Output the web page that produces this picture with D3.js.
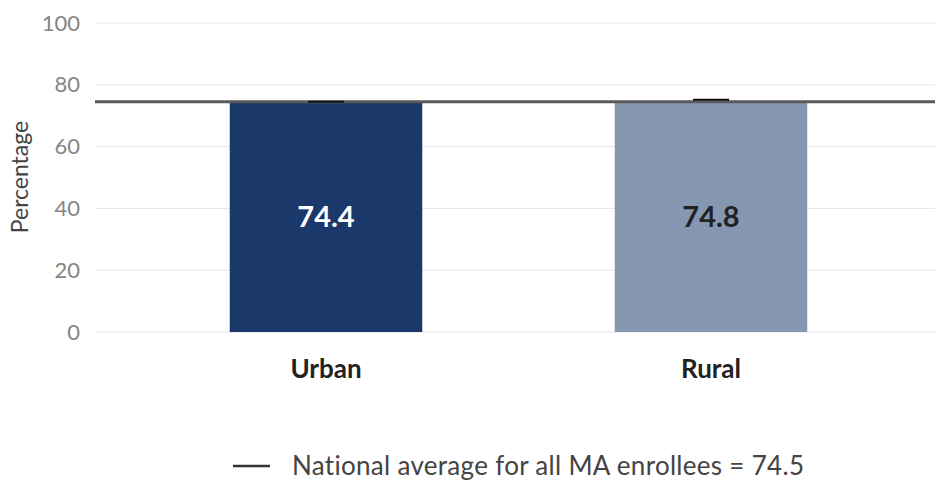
<!DOCTYPE html>
<html><head><meta charset="utf-8">
<script src="https://cdn.jsdelivr.net/npm/d3@7/dist/d3.min.js"></script>
<style>body{margin:0;background:#fff;}text{font-family:Lato,"Open Sans",sans-serif;}</style>
</head><body>
<script>
const categories = ["Urban", "Rural"];
const values = [74.4, 74.8];
const capTops = [74.5, 75.2];
const nationalAverage = 74.5;
const yTicks = [0, 20, 40, 60, 80, 100];
const legendLabel = "National average for all MA enrollees = 74.5";

const W = 935, H = 480;
const svg = d3.select("body").append("svg").attr("width", W).attr("height", H);
const y = d3.scaleLinear().domain([0, 100]).range([332, 23]);
const x = d3.scaleBand().domain(categories).range([133.5, 903.5]).paddingInner(0.5).paddingOuter(0.25);
const colors = ["#1b386b", "#8597b1"];
const textColors = ["#ffffff", "#222222"];

// grid
svg.append("g").selectAll("line").data(yTicks).join("line")
  .attr("x1", 95).attr("x2", 935)
  .attr("y1", d => y(d)).attr("y2", d => y(d))
  .attr("stroke", "#e6e6e6").attr("stroke-width", 1);

// y axis labels
const ax = svg.append("g").attr("transform", "translate(80,0)")
  .call(d3.axisLeft(y).tickValues(yTicks).tickSize(0).tickPadding(0));
ax.select(".domain").remove();
ax.selectAll("text").attr("font-size", 22).attr("fill", "#858585").style("font-family", "Lato, 'Open Sans', sans-serif");

svg.append("text").attr("transform", "translate(28,177) rotate(-90)")
  .attr("text-anchor", "middle").attr("font-size", 23).attr("fill", "#444").text("Percentage");

// bars
svg.append("g").selectAll("rect").data(categories).join("rect")
  .attr("x", d => x(d)).attr("width", x.bandwidth())
  .attr("y", (d, i) => y(values[i])).attr("height", (d, i) => y(0) - y(values[i]))
  .attr("fill", (d, i) => colors[i]);

// national average line
svg.append("line").attr("x1", 95).attr("x2", 935)
  .attr("y1", y(nationalAverage)).attr("y2", y(nationalAverage))
  .attr("stroke", "#5a5a5a").attr("stroke-width", 3);

// caps
svg.append("g").selectAll("line").data(categories).join("line")
  .attr("x1", d => x(d) + x.bandwidth() / 2 - 18).attr("x2", d => x(d) + x.bandwidth() / 2 + 18)
  .attr("y1", (d, i) => y(capTops[i])).attr("y2", (d, i) => y(capTops[i]))
  .attr("stroke", "#111").attr("stroke-width", 2);

// value labels
svg.append("g").selectAll("text").data(categories).join("text")
  .attr("x", d => x(d) + x.bandwidth() / 2)
  .attr("y", (d, i) => (y(values[i]) + y(0)) / 2)
  .attr("dy", "0.36em").attr("text-anchor", "middle")
  .attr("font-size", 29).attr("font-weight", "bold")
  .attr("fill", (d, i) => textColors[i])
  .text((d, i) => values[i].toFixed(1));

// category labels
svg.append("g").selectAll("text").data(categories).join("text")
  .attr("x", d => x(d) + x.bandwidth() / 2).attr("y", 378)
  .attr("text-anchor", "middle").attr("font-size", 26).attr("font-weight", "bold")
  .attr("fill", "#222").text(d => d);

// legend
svg.append("line").attr("x1", 233).attr("x2", 270).attr("y1", 466).attr("y2", 466)
  .attr("stroke", "#333").attr("stroke-width", 2.5);
svg.append("text").attr("x", 292).attr("y", 475)
  .attr("font-size", 26).attr("letter-spacing", 0.3).attr("fill", "#444").text(legendLabel);
</script>
</body></html>
